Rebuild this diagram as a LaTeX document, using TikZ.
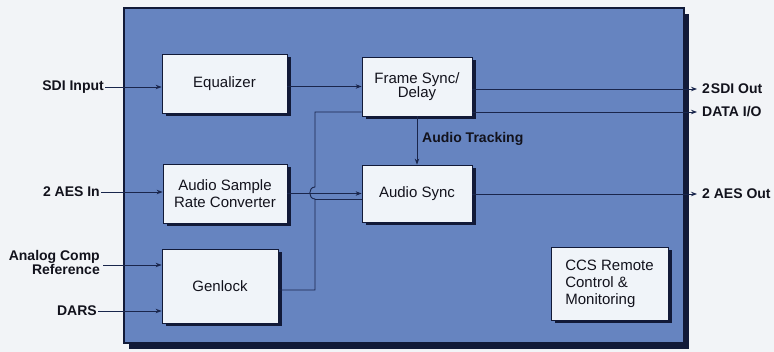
\documentclass[tikz,border=0pt]{standalone}
\usepackage{fontspec}
\setmainfont{Liberation Sans}
\usetikzlibrary{shadows,arrows.meta}
\definecolor{bgc}{RGB}{242,244,247}
\definecolor{panelc}{RGB}{102,132,192}
\definecolor{darkc}{RGB}{18,26,56}
\definecolor{boxc}{RGB}{240,244,249}
\definecolor{linec}{RGB}{26,38,76}
\definecolor{textc}{RGB}{18,18,28}
\tikzset{
  panelbox/.style={draw=darkc, line width=1.2pt, fill=panelc, minimum width=560pt, minimum height=335pt, inner sep=0pt,
    drop shadow={shadow xshift=5pt, shadow yshift=-6pt, fill=darkc, opacity=1}},
  blk/.style={draw=darkc, line width=0.8pt, fill=boxc, inner sep=0pt, text=textc,
    font=\fontsize{15}{17}\selectfont, align=center,
    drop shadow={shadow xshift=3.5pt, shadow yshift=-3.5pt, fill=darkc, opacity=1}},
  lab/.style={font=\bfseries\fontsize{14}{13}\selectfont, text=textc, inner sep=1pt},
  rlab/.style={lab, anchor=west, inner xsep=5pt, inner ysep=1pt},
  wire/.style={draw=linec, line width=0.9pt},
  conn/.style={wire, -{Stealth[length=6pt,width=4.5pt]}}
}
\begin{document}
\begin{tikzpicture}[x=1pt,y=-1pt]
\useasboundingbox[fill=bgc] (0,0) rectangle (774,352);
\node[panelbox] (panel) at (404,175.5) {};

% blocks
\node[blk, minimum width=125pt, minimum height=59pt] (eq) at (224.5,83.5) {Equalizer};
\node[blk, minimum width=110pt, minimum height=59pt, font=\fontsize{15}{14}\selectfont] (fs) at (417,86.5) {Frame Sync/\\Delay};
\node[blk, minimum width=124pt, minimum height=59pt] (asrc) at (225,193.5) {Audio Sample\\Rate Converter};
\node[blk, minimum width=110pt, minimum height=57pt] (as) at (417,193.5) {Audio Sync};
\node[blk, minimum width=116pt, minimum height=74pt] (gen) at (220,286) {Genlock};
\node[blk, minimum width=117pt, minimum height=73pt, align=left] (ccs) at (609.5,283.5) {CCS Remote\\Control \&\\Monitoring};

% outer labels
\node[lab, anchor=east] (sdi) at (105,87) {SDI Input};
\node[lab, anchor=east] (aesin) at (101,192) {2 AES In};
\node[lab, anchor=east, align=right] (ana) at (101,262.5) {Analog Comp\\Reference};
\coordinate (anaout) at (103,265);
\node[lab, anchor=east] (dars) at (98,311) {DARS};
\node[rlab] (sdiout) at (697,89) {2\kern1pt SDI Out};
\node[rlab] (data) at (697,112) {DATA I/O};
\node[rlab] (aesout) at (697,194) {2 AES Out};
\node[lab, anchor=west] (track) at (421,139) {Audio Tracking};

% connectors
\draw[conn] (sdi.east) -- (sdi.east -| eq.west);
\draw[conn] (eq.east |- fs.west) -- (fs.west);
\draw[conn] (fs.east |- sdiout.west) -- (sdiout.west);
\draw[conn] (fs.east |- data.west) -- (data.west);
\draw[conn] (fs.south) -- (as.north);
\draw[conn] (aesin.east) -- (aesin.east -| asrc.west);
\draw[conn] (asrc.east) -- (as.west);
\draw[conn] (as.east |- aesout.west) -- (aesout.west);
\draw[conn] (anaout) -- (anaout -| gen.west);
\draw[conn] (dars.east) -- (dars.east -| gen.west);

% genlock reference distribution with line hop
\coordinate (g1) at (315,290);
\coordinate (hlo) at (315,199);
\coordinate (hhi) at (315,187);
\coordinate (g2) at (315,112);
\draw[wire] (gen.east |- g1) -- (g1) -- (hlo) .. controls (308,199) and (308,187) .. (hhi) -- (g2) -- (g2 -| fs.west);
\draw[wire] (hlo) -- (hlo -| as.west);
\end{tikzpicture}
\end{document}
